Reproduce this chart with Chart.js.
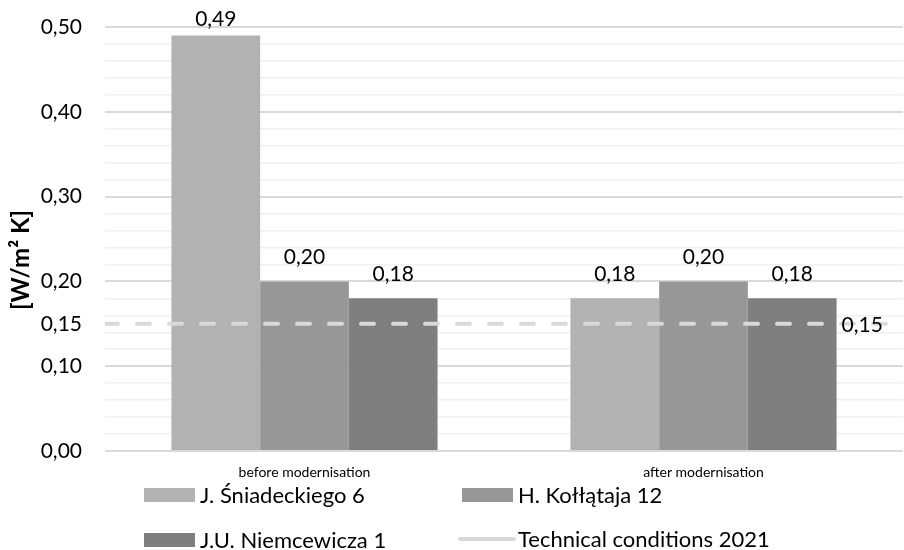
<!DOCTYPE html>
<html><head><meta charset="utf-8">
<script src="https://cdn.jsdelivr.net/npm/chart.js@4/dist/chart.umd.min.js"></script>
<style>html,body{margin:0;padding:0;background:#fff}#wrap{width:904px;height:550px;position:relative}</style>
</head><body><div id="wrap"><canvas id="c" width="904" height="550"></canvas></div>
<script>
const categories = ['before modernisation', 'after modernisation'];
const seriesNames = ['J. Śniadeckiego 6', 'H. Kołłątaja 12', 'J.U. Niemcewicza 1'];
const sniadeckiego = [0.49, 0.18];
const kollataja = [0.20, 0.20];
const niemcewicza = [0.18, 0.18];
const technicalName = 'Technical conditions 2021';
const technicalValue = 0.15;
const yTickLabels = [0, 0.10, 0.15, 0.20, 0.30, 0.40, 0.50];
const yAxisTitle = '[W/m² K]';
const yMin = 0, yMax = 0.5, gridStep = 0.02;

const barColors = ['#b2b2b2', '#979797', '#7f7f7f'];
const lineColor = '#d9d9d9';
const FONT = 'Lato, "Open Sans", sans-serif';
const fmt = v => v.toFixed(2).replace('.', ',');
const isLabelTick = v => yTickLabels.some(t => Math.abs(t - v) < 1e-6);
const isMajor = v => Math.abs(v * 10 - Math.round(v * 10)) < 1e-6;
const xMin = -0.5, xMax = categories.length - 0.5;
const toPoints = arr => arr.map((v, i) => ({ x: i, y: v }));

const barLabelPlugin = {
  id: 'barLabels',
  afterDatasetsDraw(chart) {
    const ctx = chart.ctx;
    const top = chart.chartArea.top;
    ctx.save();
    ctx.font = '21px ' + FONT;
    ctx.fillStyle = '#000';
    ctx.textAlign = 'center';
    ctx.textBaseline = 'alphabetic';
    chart.data.datasets.forEach((ds, i) => {
      if (ds.type === 'line') return;
      const meta = chart.getDatasetMeta(i);
      meta.data.forEach((el, j) => {
        ctx.fillText(fmt(ds.data[j].y), el.x, Math.max(el.y - 17, top - 1));
      });
    });
    const y = chart.scales.y.getPixelForValue(technicalValue);
    const x = chart.scales.x.getPixelForValue(1) + 138;
    ctx.textAlign = 'left';
    ctx.textBaseline = 'middle';
    ctx.fillText(fmt(technicalValue), x, y + 1);
    // y axis title
    ctx.translate(21, 260);
    ctx.rotate(-Math.PI / 2);
    ctx.font = 'bold 24px ' + FONT;
    ctx.textAlign = 'center';
    ctx.textBaseline = 'middle';
    ctx.fillText(yAxisTitle, 0, 0);
    ctx.restore();
  }
};

const legendPlugin = {
  id: 'customLegend',
  afterDraw(chart) {
    const ctx = chart.ctx;
    const items = [
      { text: seriesNames[0], color: barColors[0], type: 'box', x: 144, y: 495 },
      { text: seriesNames[1], color: barColors[1], type: 'box', x: 462, y: 495 },
      { text: seriesNames[2], color: barColors[2], type: 'box', x: 144, y: 540 },
      { text: technicalName, color: lineColor, type: 'line', x: 462, y: 539 }
    ];
    ctx.save();
    ctx.font = '22px ' + FONT;
    ctx.textBaseline = 'middle';
    ctx.textAlign = 'left';
    items.forEach(it => {
      if (it.type === 'box') {
        ctx.fillStyle = it.color;
        ctx.fillRect(it.x, it.y - 7, 51, 14);
      } else {
        ctx.strokeStyle = it.color;
        ctx.lineWidth = 4;
        ctx.lineCap = 'round';
        ctx.beginPath();
        ctx.moveTo(it.x - 2, it.y);
        ctx.lineTo(it.x + 52, it.y);
        ctx.stroke();
      }
      ctx.fillStyle = '#000';
      ctx.fillText(it.text, it.x + 56, it.y + 1);
    });
    ctx.restore();
  }
};

new Chart(document.getElementById('c'), {
  type: 'bar',
  data: {
    datasets: [
      { label: seriesNames[0], data: toPoints(sniadeckiego), backgroundColor: barColors[0], order: 1 },
      { label: seriesNames[1], data: toPoints(kollataja), backgroundColor: barColors[1], order: 1 },
      { label: seriesNames[2], data: toPoints(niemcewicza), backgroundColor: barColors[2], order: 1 },
      {
        type: 'line', label: technicalName, order: 0,
        data: [{ x: xMin, y: technicalValue }, { x: xMax, y: technicalValue }],
        borderColor: lineColor, borderWidth: 4, borderDash: [13, 19], borderCapStyle: 'round',
        pointRadius: 0, fill: false
      }
    ]
  },
  options: {
    responsive: false,
    animation: false,
    events: [],
    datasets: { bar: { categoryPercentage: 0.667, barPercentage: 1.0 } },
    layout: { padding: { left: 0, right: 1, top: 27, bottom: 69 } },
    plugins: { legend: { display: false }, tooltip: { enabled: false } },
    scales: {
      x: {
        type: 'linear', min: xMin, max: xMax, offset: false,
        afterBuildTicks(s) { s.ticks = categories.map((c, i) => ({ value: i })); },
        grid: { display: false, drawTicks: false },
        border: { display: false },
        ticks: {
          color: '#000', font: { family: FONT, size: 14 }, padding: 13, maxRotation: 0, autoSkip: false,
          callback: v => categories[v]
        },
        afterFit(s) { s.height = 30; s.paddingLeft = 0; s.paddingRight = 0; }
      },
      y: {
        min: yMin, max: yMax,
        afterBuildTicks(s) {
          const vals = [];
          for (let i = 0; i <= Math.round((yMax - yMin) / gridStep); i++) vals.push(+(yMin + i * gridStep).toFixed(4));
          yTickLabels.forEach(t => { if (!vals.some(v => Math.abs(v - t) < 1e-6)) vals.push(t); });
          vals.sort((a, b) => a - b);
          s.ticks = vals.map(v => ({ value: v }));
        },
        afterFit(s) { s.width = 105; s.paddingTop = 0; s.paddingBottom = 0; },
        grid: {
          drawTicks: false,
          color: c => isLabelTick(c.tick.value) && !isMajor(c.tick.value) ? 'rgba(0,0,0,0)' : (isMajor(c.tick.value) ? '#d9d9d9' : '#f0f0f0'),
          lineWidth: c => isMajor(c.tick.value) ? 2 : 1.5
        },
        border: { display: false },
        ticks: {
          color: '#000', padding: 23, autoSkip: false,
          font: { family: FONT, size: 21 },
          callback: v => isLabelTick(v) ? fmt(v) : ''
        },
        title: { display: false }
      }
    }
  },
  plugins: [barLabelPlugin, legendPlugin]
});
</script>
</body></html>
